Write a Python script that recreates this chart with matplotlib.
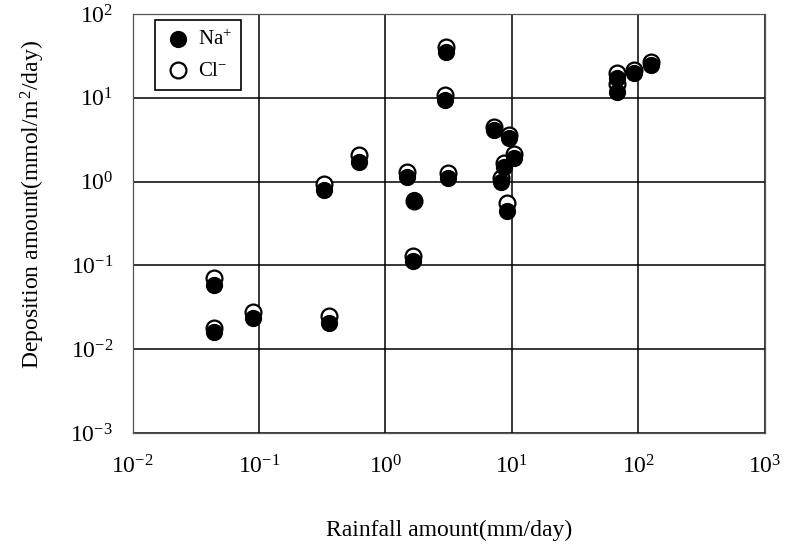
import matplotlib
matplotlib.use("Agg")
import matplotlib.pyplot as plt
import numpy as np

# Font setup: Times-like serif everywhere, mathtext for the superscripts
plt.rcParams['font.family'] = ['Liberation Serif', 'DejaVu Serif']
plt.rcParams['mathtext.fontset'] = 'custom'
plt.rcParams['mathtext.rm'] = 'Liberation Serif'
plt.rcParams['mathtext.it'] = 'Liberation Serif:italic'

# Data (rainfall mm/day, deposition mmol/m2/day)
rainfall = [0.044, 0.044, 0.090, 0.357, 0.327, 0.617, 1.48, 1.68, 1.65,
            2.95, 3.01, 3.12, 7.21, 8.19, 8.65, 9.13, 9.46, 10.4,
            67.6, 67.6, 92.0, 125.6]
na_dep = [0.0585, 0.016, 0.0236, 0.0206, 0.79, 1.71, 1.13, 0.60, 0.113,
          9.4, 35.3, 1.10, 4.1, 0.99, 1.49, 0.45, 3.3, 1.92,
          17.2, 11.7, 19.6, 24.6]
cl_dep = [0.071, 0.018, 0.0278, 0.0249, 0.936, 2.07, 1.31, 0.58, 0.13,
          10.8, 40.5, 1.27, 4.5, 1.10, 1.67, 0.56, 3.6, 2.14,
          19.8, 14.6, 21.5, 27.0]

fig = plt.figure(figsize=(7.85, 5.48), dpi=100)
ax = fig.add_axes([0.1688, 0.2099, 0.8057, 0.7646])

ax.scatter(rainfall, cl_dep, s=130, facecolors='white', edgecolors='black',
           linewidths=1.6, zorder=3, label='Cl$^{-}$')
ax.scatter(rainfall, na_dep, s=130, facecolors='black', edgecolors='black',
           linewidths=1.0, zorder=4, label='Na$^{+}$')

ax.set_xscale('log')
ax.set_yscale('log')
ax.set_xlim(1e-2, 1e3)
ax.set_ylim(1e-3, 1e2)
ax.set_xticks([1e-2, 1e-1, 1e0, 1e1, 1e2, 1e3])
ax.set_yticks([1e-3, 1e-2, 1e-1, 1e0, 1e1, 1e2])
ax.minorticks_off()
ax.grid(True, which='major', color='black', linewidth=1.1)
ax.set_axisbelow(True)
ax.tick_params(length=0, labelsize=17)
ax.tick_params(axis='x', pad=16)
ax.tick_params(axis='y', pad=14)
for s in ax.spines.values():
    s.set_color('#555555')
    s.set_linewidth(0.9)

ax.set_xlabel('Rainfall amount(mm/day)', fontsize=17, labelpad=30)
ax.set_ylabel('Deposition amount(mmol/m$^{\\,2}$/day)', fontsize=17)
ax.yaxis.set_label_coords(-0.135, 0.545)

handles, labels = ax.get_legend_handles_labels()
leg = ax.legend(handles[::-1], labels[::-1], loc='upper left',
                bbox_to_anchor=(0.036, 0.985), borderaxespad=0, fontsize=15,
                fancybox=False, edgecolor='black', framealpha=1,
                handletextpad=0.3, labelspacing=0.55, handlelength=1.3,
                borderpad=0.45)
leg.get_frame().set_linewidth(1.2)

fig.savefig('out.png', dpi=100)
